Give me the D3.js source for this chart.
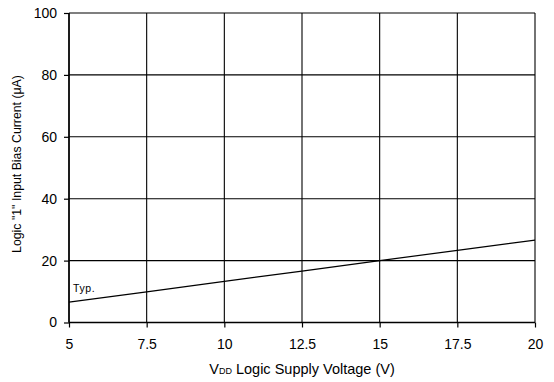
<!DOCTYPE html>
<html><head><meta charset="utf-8">
<script src="https://d3js.org/d3.v7.min.js"></script>
<style>body{margin:0;background:#fff}svg{display:block}text{font-family:"Liberation Sans",Arial,sans-serif}</style>
</head><body><svg id="c" width="554" height="382"></svg>
<script>
const xTicks = [5, 7.5, 10, 12.5, 15, 17.5, 20];
const yTicks = [0, 20, 40, 60, 80, 100];
const voltage = [5, 7.5, 10, 12.5, 15, 17.5, 20];
const current = [6.6, 9.9, 13.3, 16.6, 20, 23.3, 26.6];
const seriesLabel = "Typ.";

const svg = d3.select("#c");
const m = {l: 69, r: 535, t: 13, b: 322.5};
const x = d3.scaleLinear().domain([5, 20]).range([m.l, m.r]);
const y = d3.scaleLinear().domain([0, 100]).range([m.b, m.t]);

const g = svg.append("g");
// grid
g.selectAll(".gx").data(xTicks).enter().append("line")
  .attr("x1", d => x(d)).attr("x2", d => x(d)).attr("y1", m.t).attr("y2", m.b)
  .attr("stroke", "#000").attr("stroke-width", 1.1);
g.selectAll(".gy").data(yTicks).enter().append("line")
  .attr("x1", m.l).attr("x2", m.r).attr("y1", d => y(d)).attr("y2", d => y(d))
  .attr("stroke", "#000").attr("stroke-width", 1.1);

const xa = svg.append("g").attr("transform", `translate(0,${m.b})`)
  .call(d3.axisBottom(x).tickValues(xTicks).tickFormat(d => String(d)).tickSize(5).tickPadding(12));
const ya = svg.append("g").attr("transform", `translate(${m.l},0)`)
  .call(d3.axisLeft(y).tickValues(yTicks).tickSize(5).tickPadding(7));
[xa, ya].forEach(a => {
  a.select(".domain").attr("stroke", "#000").attr("stroke-width", 1.5);
  a.selectAll(".tick line").attr("stroke", "#000").attr("stroke-width", 1.2);
  a.selectAll(".tick text").attr("font-size", 14).attr("fill", "#000")
   .style("font-family", '"Liberation Sans",Arial,sans-serif');
});
ya.select(".domain").attr("d", `M0,${m.b}V${m.t}`);
xa.select(".domain").attr("d", `M${m.l},0H${m.r}`);

// line
svg.append("path").datum(voltage.map((v, i) => [v, current[i]]))
  .attr("fill", "none").attr("stroke", "#000").attr("stroke-width", 1.2)
  .attr("d", d3.line().x(d => x(d[0])).y(d => y(d[1])));

svg.append("text").attr("x", x(5) + 4).attr("y", 292).attr("font-size", 10.5)
  .attr("letter-spacing", 0.6).attr("fill", "#000")
  .text(seriesLabel);

// axis titles
const xt = svg.append("text").attr("x", 302).attr("y", 374)
  .attr("text-anchor", "middle").attr("font-size", 14.5).attr("fill", "#000");
xt.append("tspan").text("V");
xt.append("tspan").attr("font-size", 9).text("DD");
xt.append("tspan").text(" Logic Supply Voltage (V)");

svg.append("text").attr("transform", `translate(21,164) rotate(-90)`)
  .attr("text-anchor", "middle").attr("font-size", 12.3).attr("fill", "#000")
  .text("Logic \"1\" Input Bias Current (\u03bcA)");
</script></body></html>
